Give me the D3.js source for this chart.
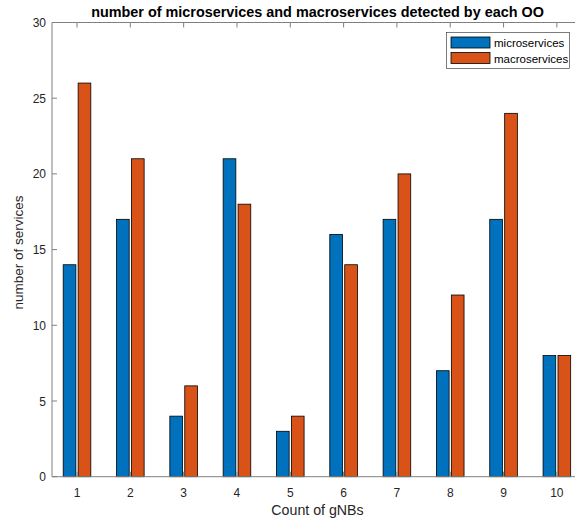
<!DOCTYPE html>
<html><head><meta charset="utf-8">
<script src="https://cdn.jsdelivr.net/npm/d3@7"></script>
<style>body{margin:0;background:#fff}text{font-family:"Liberation Sans",Arial,sans-serif}</style>
</head><body>
<script>
const categories = [1,2,3,4,5,6,7,8,9,10];
const micro = [14,17,4,21,3,16,17,7,17,8];
const macro = [26,21,6,18,4,14,20,12,24,8];
const seriesNames = ["microservices","macroservices"];
const colors = ["#0072BD","#D95319"];
const yTicks = [0,5,10,15,20,25,30];

const W=575,H=524;
const svg=d3.select("body").append("svg").attr("width",W).attr("height",H);
const L=52,R=575,T=22.5,B=476.7;
const x=d3.scaleLinear().domain([0.531,10.34]).range([L,R]);
const y=d3.scaleLinear().domain([0,30]).range([B,T]);
const bw=0.238, off=0.14;

const series=[micro,macro];
series.forEach((s,si)=>{
  svg.append("g").selectAll("rect").data(s).enter().append("rect")
    .attr("x",(d,i)=>x(categories[i]+(si?off:-off)-bw/2))
    .attr("width",x(bw)-x(0))
    .attr("y",d=>y(d)).attr("height",d=>y(0)-y(d))
    .attr("fill",colors[si]).attr("stroke","#000").attr("stroke-width",0.8);
});

const ac="#262626";
svg.append("line").attr("x1",L).attr("x2",R).attr("y1",B).attr("y2",B).attr("stroke","#808080");
svg.append("line").attr("x1",L).attr("x2",R).attr("y1",T).attr("y2",T).attr("stroke","#808080");
svg.append("line").attr("x1",L).attr("x2",L).attr("y1",T).attr("y2",B).attr("stroke","#808080");
categories.forEach(c=>{
  svg.append("line").attr("x1",x(c)).attr("x2",x(c)).attr("y1",B).attr("y2",B-5).attr("stroke","#808080");
  svg.append("line").attr("x1",x(c)).attr("x2",x(c)).attr("y1",T).attr("y2",T+5).attr("stroke","#808080");
  svg.append("text").attr("x",x(c)).attr("y",B+20).attr("text-anchor","middle").attr("font-size",12).attr("fill",ac).text(c);
});
yTicks.forEach(t=>{
  svg.append("line").attr("x1",L).attr("x2",L+5).attr("y1",y(t)).attr("y2",y(t)).attr("stroke","#808080");
  svg.append("text").attr("x",L-6).attr("y",y(t)+4.5).attr("text-anchor","end").attr("font-size",12).attr("fill",ac).text(t);
});
svg.append("text").attr("x",317.5).attr("y",515).attr("text-anchor","middle").attr("font-size",14.2).attr("fill",ac).text("Count of gNBs");
svg.append("text").attr("transform",`translate(23,${(T+B)/2+3}) rotate(-90)`).attr("text-anchor","middle").attr("font-size",13.5).attr("fill",ac).text("number of services");
svg.append("text").attr("x",317.5).attr("y",17).attr("text-anchor","middle").attr("font-size",14.4).attr("font-weight","bold").attr("fill","#000").text("number of microservices and macroservices detected by each OO");

const lg=svg.append("g");
lg.append("rect").attr("x",446.5).attr("y",32.5).attr("width",123).attr("height",36).attr("fill","#fff").attr("stroke","#262626").attr("stroke-width",0.6);
seriesNames.forEach((n,i)=>{
  lg.append("rect").attr("x",451).attr("y",37+i*15.5).attr("width",39).attr("height",11).attr("fill",colors[i]).attr("stroke","#000").attr("stroke-width",0.8);
  lg.append("text").attr("x",494).attr("y",47+i*15.5).attr("font-size",11.5).attr("fill","#000").text(n);
});
</script>
</body></html>
